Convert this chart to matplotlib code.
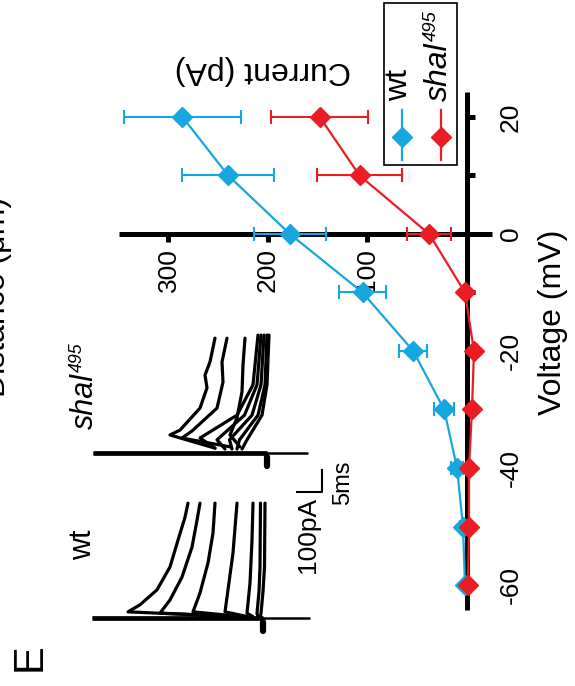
import matplotlib
matplotlib.use('Agg')
import matplotlib.pyplot as plt
from matplotlib.lines import Line2D
from matplotlib.patches import Rectangle

plt.rcParams['font.family'] = ['Liberation Sans', 'DejaVu Sans']
plt.rcParams['axes.unicode_minus'] = False

W, H = 575, 686
BLUE = '#16A6E0'
RED = '#EC1C24'

# I-V relation (voltage in mV, peak current in pA, SEM)
voltage = [-60, -50, -40, -30, -20, -10, 0, 10, 20]
wt_current = [2, 4, 10, 23, 54, 105, 178, 240, 286]
wt_err = [2, 3, 6, 10, 14, 24, 36, 46, 59]
shal_current = [-1, -2, -2, -5, -7, 2, 38, 108, 148]
shal_err = [1, 1, 1, 1, 1, 2, 22, 43, 49]

current_ticks = [100, 200, 300]
voltage_ticks = [-60, -40, -20, 0, 20]
voltage_minor = [-50, -30, -10, 10]

# example recordings (current pA, time ms)
wt_trace_i = [
    [100, 540, 492, 424, 372, 340, 312, 300],
    [80, 412, 372, 324, 284, 264, 252],
    [80, 280, 252, 220, 200, 192],
    [60, 152, 140, 120, 104],
    [40, 64, 52, 44, 40],
    [20, 24, 16, 12, 10],
    [10, 8, 0, -6, -8],
]
wt_trace_t = [
    [0.3, 1.4, 3.0, 6.4, 11.6, 17.7, 22.9, 26.1],
    [0.3, 1.1, 4.1, 9.3, 16.1, 22.2, 26.1],
    [0.3, 1.4, 5.7, 12.5, 19.3, 26.1],
    [0.3, 1.4, 6.4, 14.8, 26.1],
    [0.3, 1.1, 7.9, 17.7, 26.1],
    [0.3, 1.1, 6.0, 11.6, 26.1],
    [0.3, 1.1, 6.0, 11.6, 26.1],
]
shal_trace_i = [
    [208, 388, 348, 268, 240, 248, 228, 208],
    [148, 340, 300, 200, 176, 180, 160],
    [108, 148, 120, 100, 96, 88],
    [208, 268, 120, 56, 36],
    [168, 200, 90, 40, 24],
    [140, 150, 60, 24, 12],
    [120, 110, 36, 8, 0],
    [100, 80, 20, 0, -8],
]
shal_trace_t = [
    [1.1, 4.1, 5.2, 10.2, 14.8, 17.7, 20.7, 26.1],
    [1.4, 3.4, 5.0, 10.2, 16.1, 20.7, 26.1],
    [1.4, 4.1, 8.0, 13.9, 20.0, 26.1],
    [1.1, 3.4, 8.6, 15.5, 26.8],
    [0.9, 3.0, 8.6, 15.5, 26.8],
    [0.9, 3.0, 8.6, 15.5, 26.8],
    [0.9, 3.0, 8.6, 15.5, 26.8],
    [0.9, 3.0, 8.6, 15.5, 26.8],
]
wt_transient = [684, -188]
shal_transient = [696, -164]


def px_axes(fig, left, top, right, bottom):
    return fig.add_axes([left / W, 1 - bottom / H, (right - left) / W, (bottom - top) / H])


def ftext(fig, x, y, s, **kw):
    return fig.text(x / W, 1 - y / H, s, **kw)


def shal_label(fig, x, y, size):
    # italic gene name with a smaller raised allele number, read bottom to top
    ftext(fig, x, y, 'shal', fontsize=size, style='italic', rotation=90,
          ha='center', va='bottom')
    ftext(fig, x - 0.35 * size, y - 2.6 * size, '495', fontsize=size * 0.58,
          style='italic', rotation=90, ha='center', va='bottom')


fig = plt.figure(figsize=(W / 100, H / 100), dpi=100)

# ---- I-V plot, drawn turned a quarter turn ----
ax = px_axes(fig, 100, 80, 500, 620)
ax.set_xlim(368.84, -33.17)
ax.set_ylim(-65.98, 26.32)
ax.patch.set_visible(False)
for side in ['top', 'left']:
    ax.spines[side].set_visible(False)
ax.spines['bottom'].set_position(('data', 0))
ax.spines['bottom'].set_bounds(-25, 350)
ax.spines['right'].set_position(('data', 0))
ax.spines['right'].set_bounds(-64.3, 24.3)
for side in ['bottom', 'right']:
    ax.spines[side].set_linewidth(3.6)
    ax.spines[side].set_capstyle('butt')

ax.yaxis.tick_right()
ax.set_xticks(current_ticks)
ax.set_yticks(voltage_ticks)
ax.set_yticks(voltage_minor, minor=True)
ax.tick_params(axis='x', direction='out', length=6, width=3.6, labelsize=19,
               labelrotation=90, pad=4)
ax.tick_params(axis='y', which='both', direction='out', length=6, width=3.6,
               labelsize=19, labelrotation=90, pad=17)
for lbl in ax.get_yticklabels():
    lbl.set_verticalalignment('center')

ax.errorbar(wt_current, voltage, xerr=wt_err, color=BLUE, marker='D', ms=10,
            lw=1.6, elinewidth=1.5, capsize=5, capthick=1.5, clip_on=False, zorder=3)
ax.errorbar(shal_current, voltage, xerr=shal_err, color=RED, marker='D', ms=10,
            lw=1.6, elinewidth=1.5, capsize=5, capthick=1.5, clip_on=False, zorder=4)

ftext(fig, 263, 70, 'Current (pA)', fontsize=23, rotation=180, ha='center', va='center')
ftext(fig, 553, 322, 'Voltage (mV)', fontsize=23, rotation=90, ha='center', va='center')

# legend box
fig.add_artist(Rectangle((384 / W, 1 - 165 / H), (457 - 384) / W, (165 - 3) / H,
                         transform=fig.transFigure, fill=False, lw=1.2, ec='black'))
for x, c in [(402, BLUE), (441, RED)]:
    fig.add_artist(Line2D([x / W, x / W], [1 - 110 / H, 1 - 160 / H],
                          transform=fig.transFigure, color=c, lw=1.6))
    fig.add_artist(Line2D([x / W], [1 - 137 / H], transform=fig.transFigure,
                          marker='D', ms=10, color=c))
ftext(fig, 399, 101, 'wt', fontsize=23, rotation=90, ha='center', va='bottom')
shal_label(fig, 439, 101, 23)

# ---- example current traces ----
ax_wt = px_axes(fig, 80, 495, 330, 640)
ax_wt.set_xlim(732, -268)
ax_wt.set_ylim(-5.0, 27.95)
ax_sh = px_axes(fig, 80, 325, 330, 475)
ax_sh.set_xlim(748, -252)
ax_sh.set_ylim(-5.0, 29.09)

for a, ti, tt, tr in [(ax_wt, wt_trace_i, wt_trace_t, wt_transient),
                      (ax_sh, shal_trace_i, shal_trace_t, shal_transient)]:
    a.axis('off')
    a.plot(tr, [0, 0], color='black', lw=1.8, solid_capstyle='butt')
    a.plot([tr[0], 0], [0, 0], color='black', lw=3.4, solid_capstyle='butt')
    a.plot([0, 0], [-3.0, -0.8], color='black', lw=4.5, solid_capstyle='round')
    for i_vals, t_vals in zip(ti, tt):
        a.plot(i_vals, t_vals, color='black', lw=2.3, solid_joinstyle='round',
               solid_capstyle='round')

# scale bar: 100 pA (across) and 5 ms (along)
ax_wt.plot([-136, -236, -236], [28.6, 28.6, 33.6], color='black', lw=1.5,
           clip_on=False)
ftext(fig, 308, 535, '100pA', fontsize=19, rotation=90, ha='center', va='center')
ftext(fig, 343, 483, '5ms', fontsize=17, rotation=90, ha='center', va='center')

ftext(fig, 83, 545, 'wt', fontsize=22, rotation=90, ha='center', va='center')
shal_label(fig, 85, 429, 22)

ftext(fig, 12, 297, 'Distance (\u03bcm)', fontsize=23, rotation=90, ha='right', va='center')
ftext(fig, 30, 657, 'E', fontsize=30, rotation=90, ha='center', va='center')

fig.savefig('out.png', dpi=100)
